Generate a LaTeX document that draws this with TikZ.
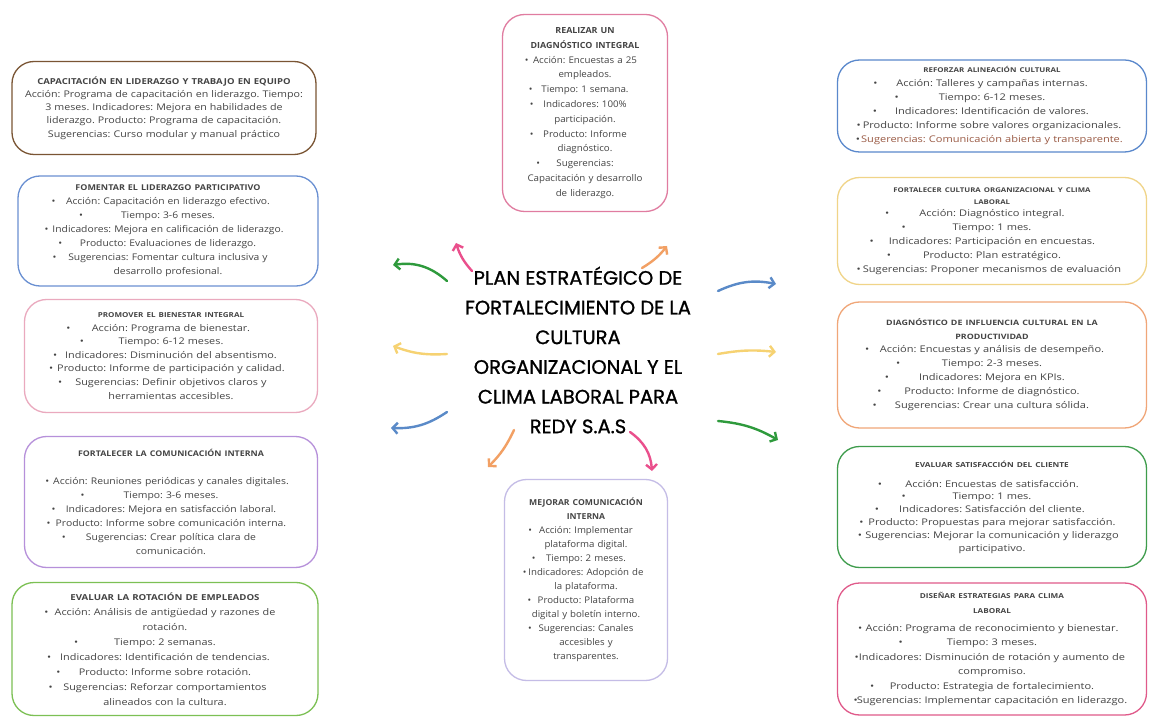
\documentclass[tikz,border=0pt]{standalone}
\usepackage{fontspec}
\setmainfont{Open Sans}
\newfontfamily\titlefont{Poppins}[FakeBold=1.0]
\usetikzlibrary{arrows.meta}
\definecolor{cbrown}{HTML}{7A5534}
\definecolor{cblue}{HTML}{6A90D2}
\definecolor{cpinkl}{HTML}{EAA9BE}
\definecolor{cpurple}{HTML}{B690DA}
\definecolor{cgreenl}{HTML}{7CC054}
\definecolor{cpink}{HTML}{E07CA0}
\definecolor{clav}{HTML}{C4BCE6}
\definecolor{cblue2}{HTML}{5A88CC}
\definecolor{cyellow}{HTML}{F0D488}
\definecolor{corange}{HTML}{F0A678}
\definecolor{cgreen}{HTML}{3E9C4C}
\definecolor{cmag}{HTML}{E05A8A}
\definecolor{txt}{HTML}{444444}
\definecolor{sugg}{HTML}{9A5A44}
\definecolor{agreen}{HTML}{2E9A3C}
\definecolor{apink}{HTML}{EA4F8C}
\definecolor{aorange}{HTML}{F2A064}
\definecolor{ablue}{HTML}{5A8AC8}
\definecolor{ayellow}{HTML}{F6D272}
\def\hdsz{7}
\newcommand\hd[1]{{\fontsize{\hdsz}{13}\selectfont\bfseries #1}}
\newcommand\bli[1]{\makebox[\linewidth]{\rlap{\textbullet}\hfil #1\hfil}}
\tikzset{
  card/.style n args={5}{draw=#1, line width=1.3pt, rounded corners=22pt, fill=white,
    align=center, text=txt, inner sep=0pt,
    font={\frenchspacing\addfontfeatures{FakeStretch=#2}\def\hdsz{#3}\fontsize{#4}{#5}\selectfont}},
  arr/.style={draw=#1, line width=2.4pt, line cap=round, line join=round,
    -{Straight Barb[length=5pt,width=11pt,line width=2.4pt]}},
  titlenode/.style={align=center, font=\titlefont\fontsize{19.5}{29.7}\selectfont, text=black}
}
\begin{document}
\begin{tikzpicture}[x=1pt,y=-1pt]
\useasboundingbox (0,0) rectangle (1149,719);
\fill[white] (0,0) rectangle (1149,719);

% left column
\node[card={cbrown}{1.16}{8.2}{9.2}{13.2}, minimum width=304pt, minimum height=93pt, text width=290pt] (cap) at (164,108)
 {\hd{CAPACITACIÓN EN LIDERAZGO Y TRABAJO EN EQUIPO}\\
  Acción: Programa de capacitación en liderazgo. Tiempo:\\
  3 meses. Indicadores: Mejora en habilidades de\\
  liderazgo. Producto: Programa de capacitación.\\
  Sugerencias: Curso modular y manual práctico};

\node[card={cblue}{1.12}{8}{9.2}{14}, minimum width=300pt, minimum height=110pt, text width=262pt] (fom) at (168,231)
 {\hd{FOMENTAR EL LIDERAZGO PARTICIPATIVO}\\
  \bli{Acción: Capacitación en liderazgo efectivo.}\\
  \bli{Tiempo: 3-6 meses.}\\
  \bli{Indicadores: Mejora en calificación de liderazgo.}\\
  \bli{Producto: Evaluaciones de liderazgo.}\\
  \bli{Sugerencias: Fomentar cultura inclusiva y}\\
  desarrollo profesional.};

\node[card={cpinkl}{1.18}{6.8}{9.2}{13.6}, minimum width=293pt, minimum height=113pt, text width=260pt] (pro) at (171,356)
 {\hd{PROMOVER EL BIENESTAR INTEGRAL}\\
  \bli{Acción: Programa de bienestar.}\\
  \bli{Tiempo: 6-12 meses.}\\
  \bli{Indicadores: Disminución del absentismo.}\\
  \bli{Producto: Informe de participación y calidad.}\\
  \bli{Sugerencias: Definir objetivos claros y}\\
  herramientas accesibles.};

\node[card={cpurple}{1.13}{7.8}{9.2}{14}, minimum width=293pt, minimum height=131pt, text width=267pt] (fcom) at (171,502)
 {\hd{FORTALECER LA COMUNICACIÓN INTERNA}\\[14pt]
  \bli{Acción: Reuniones periódicas y canales digitales.}\\
  \bli{Tiempo: 3-6 meses.}\\
  \bli{Indicadores: Mejora en satisfacción laboral.}\\
  \bli{Producto: Informe sobre comunicación interna.}\\
  \bli{Sugerencias: Crear política clara de}\\
  comunicación.};

\node[card={cgreenl}{1.18}{8.2}{9.2}{15}, minimum width=306pt, minimum height=133pt, text width=262pt] (eva) at (165,649)
 {\hd{EVALUAR LA ROTACIÓN DE EMPLEADOS}\\
  \bli{Acción: Análisis de antigüedad y razones de}\\
  rotación.\\
  \bli{Tiempo: 2 semanas.}\\
  \bli{Indicadores: Identificación de tendencias.}\\
  \bli{Producto: Informe sobre rotación.}\\
  \bli{Sugerencias: Reforzar comportamientos}\\
  alineados con la cultura.};

% center column
\node[card={cpink}{1.06}{8.4}{9.2}{14.8}, minimum width=165pt, minimum height=197pt, text width=137pt] (rea) at (585,113)
 {\hd{REALIZAR UN}\\
  \hd{DIAGNÓSTICO INTEGRAL}\\
  \bli{Acción: Encuestas a 25}\\
  empleados.\\
  \bli{Tiempo: 1 semana.}\\
  \bli{Indicadores: 100\%}\\
  participación.\\
  \bli{Producto: Informe}\\
  diagnóstico.\\
  \bli{Sugerencias:}\\
  Capacitación y desarrollo\\
  de liderazgo.};

\node[card={clav}{1.05}{8.2}{9.2}{14}, minimum width=163pt, minimum height=201pt, text width=137pt] (mej) at (586,580)
 {\hd{MEJORAR COMUNICACIÓN}\\
  \hd{INTERNA}\\
  \bli{Acción: Implementar}\\
  plataforma digital.\\
  \bli{Tiempo: 2 meses.}\\
  \bli{Indicadores: Adopción de}\\
  la plataforma.\\
  \bli{Producto: Plataforma}\\
  digital y boletín interno.\\
  \bli{Sugerencias: Canales}\\
  accesibles y\\
  transparentes.};

\node[titlenode] (title) at (578,350)
 {PLAN ESTRATÉGICO DE\\
  FORTALECIMIENTO DE LA\\
  CULTURA\\
  ORGANIZACIONAL Y EL\\
  CLIMA LABORAL PARA\\
  REDY S.A.S};

% right column
\node[card={cblue2}{1.2}{6.6}{9.2}{14}, minimum width=309pt, minimum height=92pt, text width=283pt] (ref) at (992,106)
 {\hd{REFORZAR ALINEACIÓN CULTURAL}\\
  \bli{Acción: Talleres y campañas internas.}\\
  \bli{Tiempo: 6-12 meses.}\\
  \bli{Indicadores: Identificación de valores.}\\
  \bli{Producto: Informe sobre valores organizacionales.}\\
  \bli{\textcolor{sugg}{Sugerencias: Comunicación abierta y transparente.}}};

\node[card={cyellow}{1.2}{6.5}{9.2}{14}, minimum width=309pt, minimum height=107pt, text width=283pt] (fcu) at (992,231)
 {\hd{FORTALECER CULTURA ORGANIZACIONAL Y CLIMA}\\[-2pt]
  \hd{LABORAL}\\[-2pt]
  \bli{Acción: Diagnóstico integral.}\\
  \bli{Tiempo: 1 mes.}\\
  \bli{Indicadores: Participación en encuestas.}\\
  \bli{Producto: Plan estratégico.}\\
  \bli{Sugerencias: Proponer mecanismos de evaluación}};

\node[card={corange}{1.2}{7.4}{9.2}{14}, minimum width=309pt, minimum height=126pt, text width=283pt] (dia) at (992,365)
 {\hd{DIAGNÓSTICO DE INFLUENCIA CULTURAL EN LA}\\
  \hd{PRODUCTIVIDAD}\\[-1pt]
  \bli{Acción: Encuestas y análisis de desempeño.}\\
  \bli{Tiempo: 2-3 meses.}\\
  \bli{Indicadores: Mejora en KPIs.}\\
  \bli{Producto: Informe de diagnóstico.}\\
  \bli{Sugerencias: Crear una cultura sólida.}};

\node[card={cgreen}{1.2}{6.9}{9.2}{12.8}, minimum width=309pt, minimum height=121pt, text width=283pt] (sat) at (992,507)
 {\hd{EVALUAR SATISFACCIÓN DEL CLIENTE}\\[7pt]
  \bli{Acción: Encuestas de satisfacción.}\\
  \bli{Tiempo: 1 mes.}\\
  \bli{Indicadores: Satisfacción del cliente.}\\
  \bli{Producto: Propuestas para mejorar satisfacción.}\\
  \bli{Sugerencias: Mejorar la comunicación y liderazgo}\\
  participativo.};

\node[card={cmag}{1.2}{6.8}{9.2}{14.4}, minimum width=309pt, minimum height=132pt, text width=283pt] (dis) at (992,649)
 {\hd{DISEÑAR ESTRATEGIAS PARA CLIMA}\\
  \hd{LABORAL}\\[4pt]
  \bli{Acción: Programa de reconocimiento y bienestar.}\\
  \bli{Tiempo: 3 meses.}\\
  \bli{Indicadores: Disminución de rotación y aumento de}\\
  compromiso.\\
  \bli{Producto: Estrategia de fortalecimiento.}\\
  \bli{Sugerencias: Implementar capacitación en liderazgo.}};

% arrow end points
\coordinate (s1) at (447,281); \coordinate (e1) at (393,265);
\coordinate (s2) at (472,271); \coordinate (e2) at (456,243);
\coordinate (s3) at (642,268); \coordinate (e3) at (667,246);
\coordinate (s4) at (718,291); \coordinate (e4) at (776,284);
\coordinate (s5) at (447,354); \coordinate (e5) at (393,346);
\coordinate (s6) at (718,354); \coordinate (e6) at (776,352);
\coordinate (s7) at (447,412); \coordinate (e7) at (391,428);
\coordinate (s8) at (718,421); \coordinate (e8) at (778,440);
\coordinate (s9) at (514,430); \coordinate (e9) at (488,467);
\coordinate (s10) at (630,432); \coordinate (e10) at (652,471);

\draw[arr=agreen] (s1) to[bend right=25] (e1);
\draw[arr=apink] (s2) to[bend left=12] (e2);
\draw[arr=aorange] (s3) to[bend right=10] (e3);
\draw[arr=ablue] (s4) to[bend left=18] (e4);
\draw[arr=ayellow] (s5) to[bend left=12] (e5);
\draw[arr=ayellow] (s6) to[bend left=8] (e6);
\draw[arr=ablue] (s7) to[bend left=18] (e7);
\draw[arr=agreen] (s8) to[bend left=12] (e8);
\draw[arr=aorange] (s9) to[bend left=10] (e9);
\draw[arr=apink] (s10) to[bend left=25] (e10);
\end{tikzpicture}
\end{document}
